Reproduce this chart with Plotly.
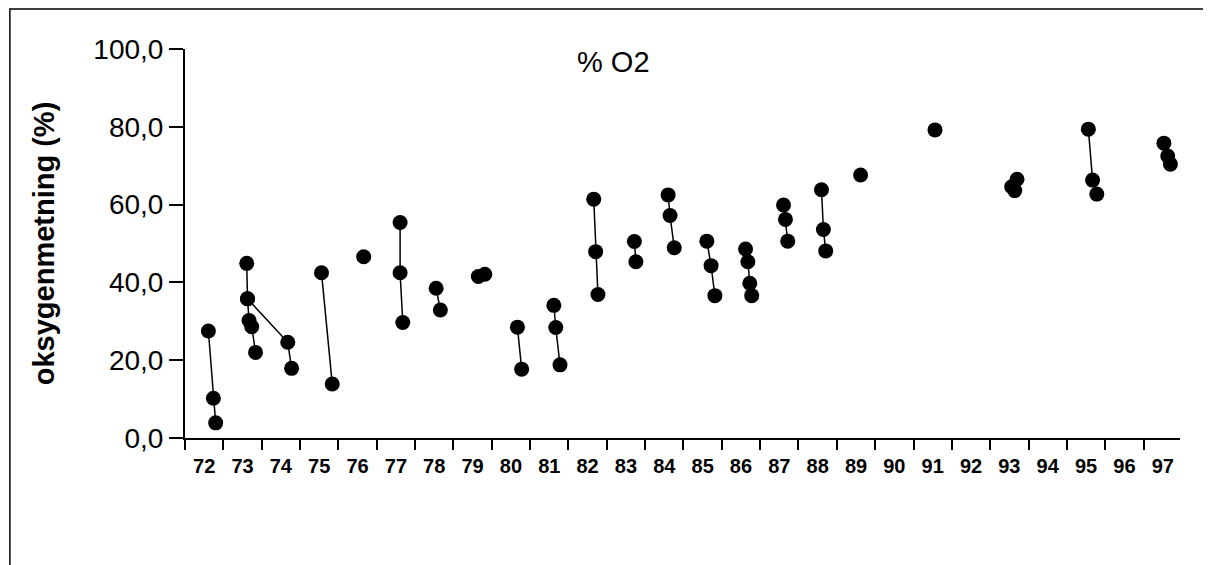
import plotly.graph_objects as go

# sample time (decimal year, 19xx) and oxygen saturation (%); None separates connected series
years = [72.61, 72.74, 72.80, None,
         73.61, 73.63, 73.67, 73.74, 73.84, None,
         73.63, 74.68, 74.78, None,
         75.56, 75.84, None,
         76.66, None,
         77.61, 77.61, 77.68, None,
         78.55, 78.66, None,
         79.65, 79.82, None,
         80.67, 80.78, None,
         81.62, 81.67, 81.78, None,
         82.66, 82.71, 82.77, None,
         83.72, 83.76, None,
         84.60, 84.65, 84.76, None,
         85.61, 85.72, 85.82, None,
         86.62, 86.68, 86.73, 86.78, None,
         87.61, 87.66, 87.72, None,
         88.60, 88.65, 88.71, None,
         89.62, None,
         91.56, None,
         93.56, 93.64, 93.70, None,
         95.56, 95.67, 95.78, None,
         97.53, 97.63, 97.70]
o2 = [27.5, 10.2, 3.9, None,
      44.9, 35.8, 30.2, 28.6, 22.0, None,
      35.8, 24.6, 17.9, None,
      42.5, 13.9, None,
      46.6, None,
      55.4, 42.5, 29.7, None,
      38.5, 32.9, None,
      41.5, 42.1, None,
      28.5, 17.7, None,
      34.1, 28.4, 18.8, None,
      61.4, 47.9, 36.9, None,
      50.5, 45.3, None,
      62.5, 57.2, 48.9, None,
      50.6, 44.3, 36.6, None,
      48.6, 45.3, 39.8, 36.6, None,
      59.9, 56.2, 50.6, None,
      63.8, 53.6, 48.1, None,
      67.6, None,
      79.2, None,
      64.6, 63.6, 66.5, None,
      79.4, 66.3, 62.7, None,
      75.8, 72.5, 70.4]

year_ticks = list(range(72, 98))
year_labels = [str(y) for y in year_ticks]
y_ticks = [0, 20, 40, 60, 80, 100]
y_labels = ["0,0", "20,0", "40,0", "60,0", "80,0", "100,0"]

fig = go.Figure()
fig.add_trace(go.Scatter(x=years, y=o2, mode="lines+markers", connectgaps=False,
                         line=dict(color="black", width=1.5),
                         marker=dict(color="black", size=15), showlegend=False))
fig.add_trace(go.Scatter(x=[y + 0.5 for y in year_ticks], y=[None] * len(year_ticks),
                         xaxis="x2", showlegend=False, hoverinfo="skip"))

xr = [72, 97.95]
fig.update_layout(
    width=1211, height=565, paper_bgcolor="white", plot_bgcolor="white",
    margin=dict(l=177, r=39, t=41, b=135),
    font=dict(family="Liberation Sans, Arial", color="black"),
    xaxis=dict(range=xr, tickvals=year_ticks + [98], ticktext=[""] * (len(year_ticks) + 1),
               ticks="outside", ticklen=10, tickwidth=1.5, tickcolor="black",
               showline=True, linecolor="black", linewidth=2, showgrid=False, zeroline=False),
    xaxis2=dict(range=xr, overlaying="x", side="bottom", anchor="y",
                tickvals=[y + 0.5 for y in year_ticks], ticktext=year_labels,
                ticks="", showline=False, showgrid=False, zeroline=False,
                ticklabelstandoff=14,
                tickfont=dict(size=20, weight="bold")),
    yaxis=dict(range=[0, 100], tickvals=y_ticks, ticktext=y_labels,
               ticks="outside", ticklen=14, tickwidth=1.5, tickcolor="black",
               showline=True, linecolor="black", linewidth=2, showgrid=False, zeroline=False,
               tickfont=dict(size=28),
               title=dict(text="<b>oksygenmetning (%)</b>", font=dict(size=29), standoff=30)),
    annotations=[dict(text="% O2", x=0.431, y=0.967, xref="paper", yref="paper",
                      xanchor="center", yanchor="middle", showarrow=False, font=dict(size=29))],
    shapes=[dict(type="rect", xref="paper", yref="paper", x0=-0.176, x1=1.025, y0=-0.4, y1=1.103,
                 line=dict(color="black", width=1.5))],
)
fig.write_html("out.html")
